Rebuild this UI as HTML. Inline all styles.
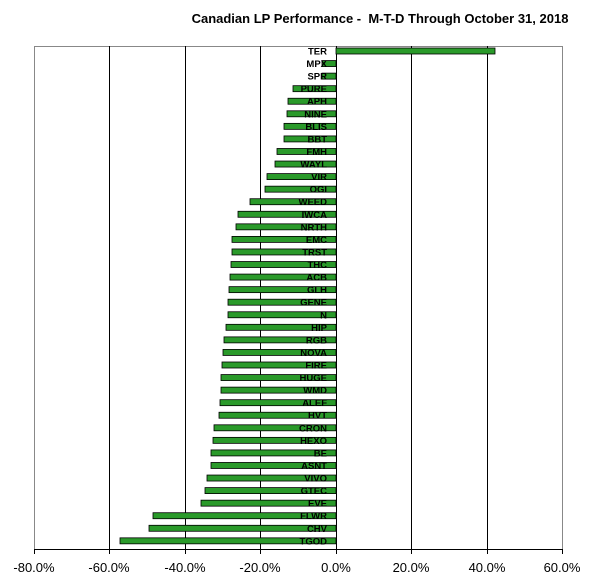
<!DOCTYPE html><html><head><style>body{margin:0;background:#fff;font-family:"Liberation Sans",Arial,sans-serif}</style></head><body>
<svg width="608" height="582" xmlns="http://www.w3.org/2000/svg" font-family="Liberation Sans,Arial,sans-serif">
<rect width="608" height="582" fill="#fff"/>
<text x="380" y="23" font-size="13" font-weight="bold" text-anchor="middle" style="white-space:pre">Canadian LP Performance -  M-T-D Through October 31, 2018</text>
<rect x="34.5" y="46.5" width="528" height="503" fill="none" stroke="#888"/>
<g stroke="#000" stroke-width="1">
<line x1="109.5" y1="46" x2="109.5" y2="549"/><line x1="185.5" y1="46" x2="185.5" y2="549"/><line x1="260.5" y1="46" x2="260.5" y2="549"/><line x1="411.5" y1="46" x2="411.5" y2="549"/><line x1="487.5" y1="46" x2="487.5" y2="549"/>
<line x1="34" y1="549.5" x2="562" y2="549.5"/><line x1="336.5" y1="46" x2="336.5" y2="549"/>
<line x1="34.5" y1="549" x2="34.5" y2="554"/><line x1="109.5" y1="549" x2="109.5" y2="554"/><line x1="185.5" y1="549" x2="185.5" y2="554"/><line x1="260.5" y1="549" x2="260.5" y2="554"/><line x1="336.5" y1="549" x2="336.5" y2="554"/><line x1="411.5" y1="549" x2="411.5" y2="554"/><line x1="487.5" y1="549" x2="487.5" y2="554"/><line x1="562.5" y1="549" x2="562.5" y2="554"/>
</g>
<g font-size="13" text-anchor="middle">
<text x="34" y="572">-80.0%</text><text x="109" y="572">-60.0%</text><text x="185" y="572">-40.0%</text><text x="260" y="572">-20.0%</text><text x="336" y="572">0.0%</text><text x="411" y="572">20.0%</text><text x="487" y="572">40.0%</text><text x="562" y="572">60.0%</text>
</g>
<g id="bars" fill="#2a9a2a" stroke="#000" stroke-width="0.8"></g>
<g id="labels" font-size="9.5" font-weight="bold" text-anchor="end" fill="#000"></g>
</svg>
<script>
var d=[["TER",495],["MPX",322],["SPR",322],["PURE",293],["APH",288],["NINE",287],["BLIS",284],["BBT",284],["FMH",277],["WAYL",275],["VIR",267],["OGI",265],["WEED",250],["IWCA",238],["NRTH",236],["EMC",232],["TRST",232],["THC",231],["ACB",230],["GLH",229],["GENE",228],["N",228],["HIP",226],["RGB",224],["NOVA",223],["FIRE",222],["HUGE",221],["WMD",221],["ALEF",220],["HVT",219],["CRON",214],["HEXO",213],["BE",211],["ASNT",211],["VIVO",207],["GTEC",205],["EVE",201],["FLWR",153],["CHV",149],["TGOD",120]];
var b=document.getElementById('bars'),l=document.getElementById('labels'),ns="http://www.w3.org/2000/svg";
d.forEach(function(e,i){var y=51+i*12.56;var r=document.createElementNS(ns,'rect');var x1=Math.min(e[1],336),x2=Math.max(e[1],336);r.setAttribute('x',x1);r.setAttribute('y',y-3);r.setAttribute('width',x2-x1);r.setAttribute('height',6);b.appendChild(r);
var t=document.createElementNS(ns,'text');t.setAttribute('x',327);t.setAttribute('y',y+3.5);t.textContent=e[0];l.appendChild(t);});
</script>
</body></html>
